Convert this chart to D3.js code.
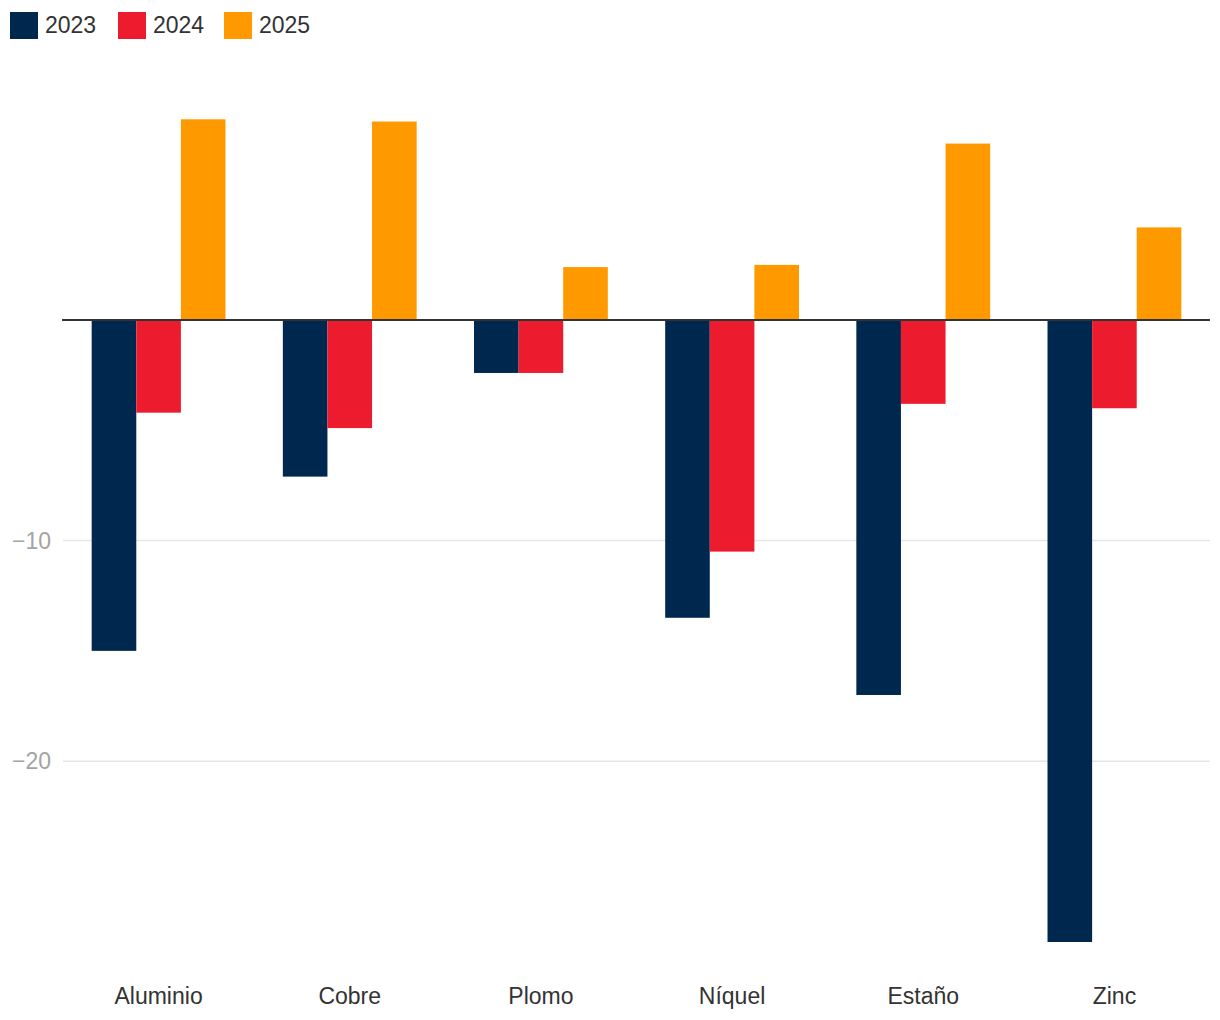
<!DOCTYPE html>
<html>
<head>
    <meta charset="utf-8">
    <title>Metales</title>
    <script src="https://d3js.org/d3.v7.min.js"></script>
    <style>
        body { margin: 0; background: #fff; }
        text { font-family: "Liberation Sans", Arial, Helvetica, sans-serif; }
    </style>
</head>
<body>
    <div id="chart"></div>
    <script>
        // Data
        const categories = ["Aluminio", "Cobre", "Plomo", "Níquel", "Estaño", "Zinc"];
        const years = ["2023", "2024", "2025"];
        const values2023 = [-15.0, -7.1, -2.4, -13.5, -17.0, -28.2];
        const values2024 = [-4.2, -4.9, -2.4, -10.5, -3.8, -4.0];
        const values2025 = [9.1, 9.0, 2.4, 2.5, 8.0, 4.2];
        const yTicks = [-20, -10];
        const colors = ["#00284f", "#ec1c2e", "#fe9900"];

        const series = [values2023, values2024, values2025];

        const width = 1220;
        const height = 1020;
        const margin = { top: 73, right: 10, bottom: 78, left: 63 };

        const svg = d3.select("#chart")
            .append("svg")
            .attr("width", width)
            .attr("height", height);

        const x = d3.scaleBand()
            .domain(categories)
            .range([margin.left, width - margin.right])
            .paddingInner(0.3)
            .paddingOuter(0.15);

        const xSub = d3.scaleBand()
            .domain(years)
            .range([0, x.bandwidth()]);

        const y = d3.scaleLinear()
            .domain([-28.2, 11.2])
            .range([height - margin.bottom, margin.top]);

        // Gridlines
        svg.append("g")
            .selectAll("line")
            .data(yTicks)
            .enter()
            .append("line")
            .attr("x1", margin.left)
            .attr("x2", width - margin.right)
            .attr("y1", d => y(d))
            .attr("y2", d => y(d))
            .style("stroke", "#e6e6e6")
            .style("stroke-width", 1.5);

        // Y tick labels
        svg.append("g")
            .selectAll("text")
            .data(yTicks)
            .enter()
            .append("text")
            .attr("x", 51)
            .attr("y", d => y(d) + 8)
            .attr("text-anchor", "end")
            .style("font-size", "23px")
            .style("fill", "#a3a3a3")
            .text(d => "\u2212" + Math.abs(d));

        // Bars
        const groups = svg.append("g")
            .selectAll("g")
            .data(categories)
            .enter()
            .append("g")
            .attr("transform", d => "translate(" + x(d) + ",0)");

        groups.selectAll("rect")
            .data((c, i) => years.map((yr, j) => ({ year: yr, value: series[j][i], j: j })))
            .enter()
            .append("rect")
            .attr("x", d => xSub(d.year))
            .attr("width", xSub.bandwidth())
            .attr("y", d => y(Math.max(0, d.value)))
            .attr("height", d => Math.abs(y(d.value) - y(0)))
            .style("fill", d => colors[d.j]);

        // Zero line
        svg.append("line")
            .attr("x1", margin.left - 1)
            .attr("x2", width - margin.right)
            .attr("y1", y(0))
            .attr("y2", y(0))
            .style("stroke", "#333")
            .style("stroke-width", 2);

        // Category labels
        svg.append("g")
            .selectAll("text")
            .data(categories)
            .enter()
            .append("text")
            .attr("x", d => x(d) + x.bandwidth() / 2)
            .attr("y", 1004)
            .attr("text-anchor", "middle")
            .style("font-size", "23px")
            .style("fill", "#333")
            .text(d => d);

        // Legend
        const legendX = [10, 118, 224];
        const legend = svg.append("g")
            .selectAll("g")
            .data(years)
            .enter()
            .append("g")
            .attr("transform", (d, i) => "translate(" + legendX[i] + ",12)");

        legend.append("rect")
            .attr("width", 28)
            .attr("height", 27)
            .style("fill", (d, i) => colors[i]);

        legend.append("text")
            .attr("x", 35)
            .attr("y", 20.5)
            .style("font-size", "23px")
            .style("fill", "#333")
            .text(d => d);
    </script>
</body>
</html>
